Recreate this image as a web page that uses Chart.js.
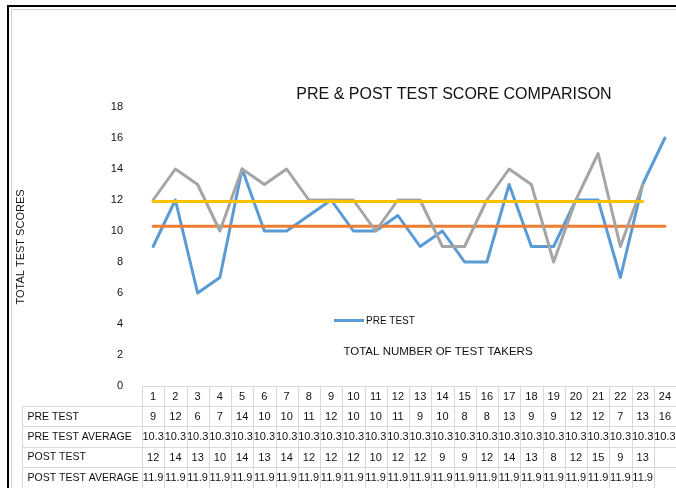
<!DOCTYPE html>
<html><head><meta charset="utf-8">
<style>html,body{margin:0;padding:0;background:#fff;overflow:hidden}#wrap{width:676px;height:488px;position:relative}</style>
<script src="https://cdn.jsdelivr.net/npm/chart.js@4/dist/chart.umd.min.js"></script>
</head><body><div id="wrap"><canvas id="c" width="676" height="488"></canvas></div>
<script>
const categories = ['1','2','3','4','5','6','7','8','9','10','11','12','13','14','15','16','17','18','19','20','21','22','23','24'];
const preTest = [9,12,6,7,14,10,10,11,12,10,10,11,9,10,8,8,13,9,9,12,12,7,13,16];
const preTestAverage = [10.3,10.3,10.3,10.3,10.3,10.3,10.3,10.3,10.3,10.3,10.3,10.3,10.3,10.3,10.3,10.3,10.3,10.3,10.3,10.3,10.3,10.3,10.3,10.3];
const postTest = [12,14,13,10,14,13,14,12,12,12,10,12,12,9,9,12,14,13,8,12,15,9,13,null];
const postTestAverage = [11.9,11.9,11.9,11.9,11.9,11.9,11.9,11.9,11.9,11.9,11.9,11.9,11.9,11.9,11.9,11.9,11.9,11.9,11.9,11.9,11.9,11.9,11.9,null];
const seriesNames = ['PRE TEST','PRE TEST AVERAGE','POST TEST','POST TEST AVERAGE'];
const seriesColors = ['#5B9BD5','#ED7D31','#A5A5A5','#FFC000'];
const yMin = 0, yMax = 18, yStep = 2;
const chartTitle = 'PRE & POST TEST SCORE COMPARISON';
const xAxisTitle = 'TOTAL NUMBER OF TEST TAKERS';
const yAxisTitle = 'TOTAL TEST SCORES';
const legendShown = ['PRE TEST'];

const seriesData = [preTest, preTestAverage, postTest, postTestAverage];
const FONT = '"Liberation Sans", Arial, sans-serif';
const TXT = '#111111';

const decorPlugin = {
  id: 'decor',
  beforeDraw(chart) {
    const ctx = chart.ctx;
    ctx.save();
    ctx.fillStyle = '#fff';
    ctx.fillRect(0, 0, chart.width, chart.height);
    ctx.fillStyle = '#000';
    ctx.fillRect(7, 5, chart.width - 7, 2);
    ctx.fillRect(7, 5, 2, chart.height - 5);
    ctx.strokeStyle = '#d0d0d0';
    ctx.lineWidth = 1;
    ctx.beginPath();
    ctx.moveTo(11.5, chart.height); ctx.lineTo(11.5, 9.5); ctx.lineTo(chart.width, 9.5);
    ctx.stroke();
    ctx.restore();
  },
  afterDraw(chart) {
    const ctx = chart.ctx;
    const x = chart.scales.x;
    const area = chart.chartArea;
    ctx.save();
    ctx.fillStyle = TXT;
    ctx.font = '16px ' + FONT;
    ctx.textAlign = 'center';
    ctx.textBaseline = 'middle';
    ctx.fillText(chartTitle, 454, 95);
    ctx.font = '11.5px ' + FONT;
    ctx.fillText(xAxisTitle, 438, 352);
    ctx.save();
    ctx.translate(21, 247);
    ctx.rotate(-Math.PI / 2);
    ctx.font = '11px ' + FONT;
    ctx.fillText(yAxisTitle, 0, 0);
    ctx.restore();
    legendShown.forEach((name) => {
      const i = seriesNames.indexOf(name);
      ctx.strokeStyle = seriesColors[i];
      ctx.lineWidth = 3;
      ctx.beginPath();
      ctx.moveTo(334, 320.5); ctx.lineTo(364, 320.5);
      ctx.stroke();
      ctx.fillStyle = TXT;
      ctx.font = '10px ' + FONT;
      ctx.textAlign = 'left';
      ctx.fillText(name, 366, 321);
    });
    const top = area.bottom;
    const headerH = 20;
    const rowH = 20.4;
    const labelLeft = 22.5;
    const n = categories.length;
    const colW = (x.getPixelForValue(1) - x.getPixelForValue(0));
    ctx.strokeStyle = '#d9d9d9';
    ctx.lineWidth = 1;
    ctx.beginPath();
    ctx.moveTo(area.left, Math.round(top) + 0.5); ctx.lineTo(chart.width, Math.round(top) + 0.5);
    for (let r = 0; r <= seriesNames.length; r++) {
      const yy = Math.round(top + headerH + r * rowH) + 0.5;
      ctx.moveTo(labelLeft, yy); ctx.lineTo(chart.width, yy);
    }
    ctx.moveTo(labelLeft, Math.round(top + headerH)); ctx.lineTo(labelLeft, chart.height);
    for (let i = 0; i <= n; i++) {
      const bx = Math.round(x.getPixelForValue(i) - colW / 2) + 0.5;
      ctx.moveTo(bx, top); ctx.lineTo(bx, chart.height);
    }
    ctx.stroke();
    ctx.fillStyle = TXT;
    ctx.textBaseline = 'middle';
    ctx.textAlign = 'center';
    ctx.font = '11px ' + FONT;
    categories.forEach((c, i) => ctx.fillText(c, x.getPixelForValue(i), top + headerH / 2 + 1));
    seriesNames.forEach((name, r) => {
      const cy = top + headerH + r * rowH + rowH / 2 + 0.5;
      ctx.textAlign = 'left';
      ctx.font = '10.5px ' + FONT;
      ctx.fillText(name, labelLeft + 5, cy);
      ctx.textAlign = 'center';
      ctx.font = '11px ' + FONT;
      seriesData[r].forEach((v, i) => {
        if (v !== null && v !== undefined) ctx.fillText(String(v), x.getPixelForValue(i), cy);
      });
    });
    ctx.restore();
  }
};

new Chart(document.getElementById('c'), {
  type: 'line',
  data: {
    labels: categories,
    datasets: seriesNames.map((name, i) => ({
      label: name,
      data: seriesData[i],
      borderColor: seriesColors[i],
      backgroundColor: seriesColors[i],
      borderWidth: 3,
      pointRadius: 0,
      tension: 0,
      fill: false,
      spanGaps: false,
      borderCapStyle: 'round',
      borderJoinStyle: 'round',
      order: seriesNames.length - i
    }))
  },
  options: {
    responsive: false,
    animation: false,
    devicePixelRatio: 1,
    layout: { padding: { top: 107, bottom: 102, left: 0, right: 0 } },
    plugins: { legend: { display: false }, title: { display: false }, tooltip: { enabled: false } },
    scales: {
      x: { type: 'category', offset: true, display: false },
      y: {
        min: yMin, max: yMax,
        afterFit(scale) { scale.width = 142; },
        grid: { display: false },
        border: { display: false },
        ticks: { stepSize: yStep, padding: 11, color: TXT, font: { family: FONT, size: 11 } }
      }
    }
  },
  plugins: [decorPlugin]
});
</script>
</body></html>
